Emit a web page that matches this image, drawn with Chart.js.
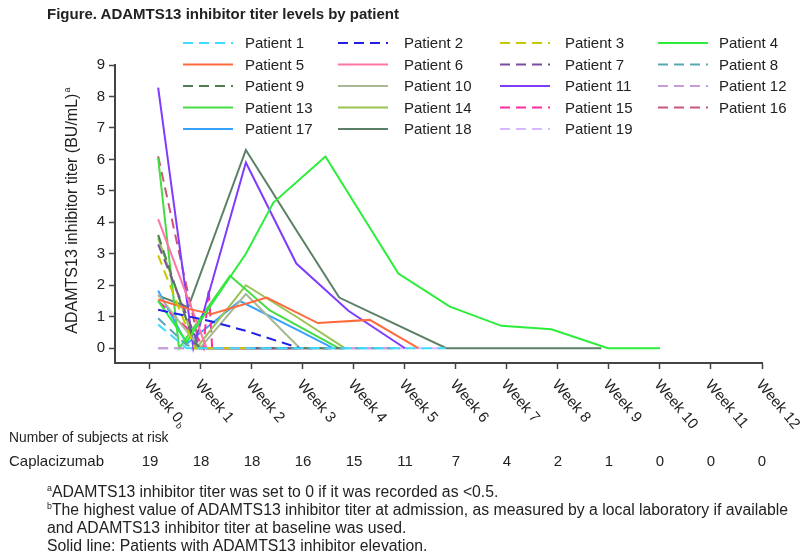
<!DOCTYPE html>
<html>
<head>
<meta charset="utf-8">
<script src="https://cdn.jsdelivr.net/npm/chart.js@4.4.1/dist/chart.umd.min.js"></script>
<style>
  html,body{margin:0;padding:0;background:#fff;}
  #wrap{position:relative;width:800px;height:557px;overflow:hidden;font-family:"Liberation Sans",Arial,sans-serif;color:#222;}
  #title{position:absolute;left:47px;top:5px;font-weight:bold;font-size:15px;}
  .fn{position:absolute;left:47px;font-family:"Liberation Sans",Arial,sans-serif;font-size:16px;white-space:nowrap;transform-origin:0 0;}
  .fn sup{font-size:9px;vertical-align:6px;line-height:0;}
  canvas{position:absolute;left:0;top:0;}
</style>
</head>
<body>
<div id="wrap">
  <canvas id="c" width="800" height="557"></canvas>
  <div id="title">Figure. ADAMTS13 inhibitor titer levels by patient</div>
  <div class="fn" style="top:483px"><sup>a</sup>ADAMTS13 inhibitor titer was set to 0 if it was recorded as &lt;0.5.</div>
  <div class="fn" id="fn2" style="top:501px"><sup>b</sup>The highest value of ADAMTS13 inhibitor titer at admission, as measured by a local laboratory if available</div>
  <div class="fn" style="top:519px">and ADAMTS13 inhibitor titer at baseline was used.</div>
  <div class="fn" style="top:537px">Solid line: Patients with ADAMTS13 inhibitor elevation.</div>
</div>
<script>
// ─── DATA ────────────────────────────────────────────────────────────────────
const weeks=[0,1,2,3,4,5,6,7,8,9,10,11,12];
const weekLabels=['Week 0','Week 1','Week 2','Week 3','Week 4','Week 5','Week 6','Week 7','Week 8','Week 9','Week 10','Week 11','Week 12'];
const yTicks=[0,1,2,3,4,5,6,7,8,9];
const atRisk=[19,18,18,16,15,11,7,4,2,1,0,0,0];

// [week, titer BU/mL]
const p1 =[[0.16,0.75],[0.72,0],[5.8,0]];
const p2 =[[0.16,1.22],[1.21,0.85],[1.88,0.55],[2.94,0]];
const p3 =[[0.16,2.95],[0.88,0],[1.9,0]];
const p4 =[[0.16,1.5],[0.72,0.2],[1.0,0.9],[1.88,3.0],[2.42,4.63],[3.44,6.09],[4.87,2.37],[5.88,1.32],[6.89,0.71],[7.87,0.6],[8.98,0],[10,0]];
const p5 =[[0.16,1.55],[0.75,1.25],[1.21,1.09],[2.29,1.61],[3.29,0.8],[4.31,0.9],[5.26,0]];
const p6 =[[0.16,4.1],[1.11,0],[2.0,0]];
const p7 =[[0.16,3.3],[0.98,0],[2.9,0]];
const p8 =[[0.16,0.95],[0.72,0.1],[0.98,0],[4.8,0]];
const p9 =[[0.16,3.6],[0.85,0.25],[0.98,0],[3.9,0]];
const p10=[[0.16,1.7],[0.98,0],[1.88,1.72],[2.94,0]];
const p11=[[0.16,8.28],[0.85,0],[1.88,5.9],[2.87,2.69],[3.89,1.19],[5.0,0]];
const p12=[[0.16,0],[4.9,0]];
const p13=[[0.16,6.05],[0.57,0],[1.57,2.3],[2.35,1.2],[3.7,0]];
const p14=[[0.16,3.5],[0.91,0],[1.88,2.0],[2.87,1.0],[3.82,0]];
const p15=[[0.16,1.5],[0.95,0.3],[1.05,0],[1.15,1.9],[1.22,0],[3.0,0]];
const p16=[[0.16,6.1],[0.98,0],[3.56,0]];
const p17=[[0.16,1.83],[0.72,0.14],[1.76,1.5],[2.87,0.6],[3.59,0]];
const p18=[[0.16,1.67],[0.75,1.3],[1.88,6.3],[2.87,3.75],[3.71,1.61],[5.81,0],[8.85,0]];
const p19=[[0.16,0],[5.81,0]];

const patients=[p1,p2,p3,p4,p5,p6,p7,p8,p9,p10,p11,p12,p13,p14,p15,p16,p17,p18,p19];
const colors=['#3fdcff','#1f1fe8','#c8c800','#2cee3a','#ff6a3d','#ff74a8','#7d4f9c','#5aa8b6','#4f7f52','#a6b994',
              '#7f3cff','#c49bd6','#44dd44','#99c455','#ff2d9c','#cc5577','#36a2ff','#5b8066','#d6b8ff'];
const dashed=[true,true,true,false,false,false,true,true,true,false,false,true,false,false,true,true,false,false,true];

// footnotes are condensed in the original: squeeze to the same width
const fnScale=741/document.getElementById('fn2').scrollWidth;
document.querySelectorAll('.fn').forEach(el=>el.style.transform=`scaleX(${fnScale})`);

// ─── EXTRA DRAWING (legend, rotated week labels, at-risk row, y title) ──────
const extras={
  id:'extras',
  afterDraw(ch){
    const ctx=ch.ctx, xs=ch.scales.x, ys=ch.scales.y;
    const F='"Liberation Sans", Arial, sans-serif';
    ctx.save();
    // legend 4 x 5 grid
    const colLine=[183,338,500,658], colText=[245,404,565,719];
    ctx.font='15px '+F;
    ctx.textBaseline='middle'; ctx.textAlign='left';
    ch.data.datasets.forEach((ds,i)=>{
      const c=i%4, r=Math.floor(i/4), y=43+r*21.5;
      ctx.strokeStyle=ds.borderColor; ctx.lineWidth=2;
      ctx.setLineDash(ds.borderDash||[]);
      ctx.beginPath(); ctx.moveTo(colLine[c],y); ctx.lineTo(colLine[c]+50,y); ctx.stroke();
      ctx.fillStyle='#222'; ctx.fillText(ds.label,colText[c],y+1);
    });
    ctx.setLineDash([]);
    // rotated week labels
    weeks.forEach((w,i)=>{
      const x=xs.getPixelForValue(w);
      ctx.save(); ctx.translate(x-3,382); ctx.rotate(50*Math.PI/180);
      ctx.font='15px '+F; ctx.fillStyle='#222'; ctx.fillText(weekLabels[i],0,0);
      if(i===0){ const tw=ctx.measureText(weekLabels[i]).width; ctx.font='9px '+F; ctx.fillText('b',tw+1,4); }
      ctx.restore();
    });
    // at-risk row
    ctx.font='15px '+F; ctx.fillStyle='#222';
    ctx.save(); ctx.translate(9,0); ctx.scale(0.92,1);
    ctx.fillText('Number of subjects at risk',0,438);
    ctx.restore();
    ctx.fillText('Caplacizumab',9,462);
    ctx.textAlign='center';
    atRisk.forEach((n,i)=>ctx.fillText(String(n),xs.getPixelForValue(weeks[i]),462));
    // y title
    ctx.save();
    ctx.translate(73,(ys.getPixelForValue(0)+ys.getPixelForValue(9))/2+4);
    ctx.rotate(-Math.PI/2);
    ctx.font='16px '+F;
    ctx.textAlign='center';
    ctx.fillText('ADAMTS13 inhibitor titer (BU/mL)',-3,0);
    const tw=ctx.measureText('ADAMTS13 inhibitor titer (BU/mL)').width;
    ctx.font='9px '+F; ctx.textAlign='left';
    ctx.fillText('a',tw/2-2,-5);
    ctx.restore();
    ctx.restore();
  }
};

new Chart(document.getElementById('c'),{
  type:'line',
  data:{datasets:patients.map((p,i)=>({
    label:'Patient '+(i+1),
    data:p.map(([x,y])=>({x,y})),
    borderColor:colors[i],
    borderWidth:2,
    borderDash:dashed[i]?[10,6]:[],
    pointRadius:0,
    fill:false,
    tension:0
  }))},
  options:{
    responsive:false,animation:false,
    layout:{padding:{top:65,right:38,left:0,bottom:0}},
    plugins:{legend:{display:false},tooltip:{enabled:false}},
    scales:{
      x:{type:'linear',min:-0.686,max:12,
        afterBuildTicks:s=>{s.ticks=weeks.map(v=>({value:v}));},
        afterFit:s=>{s.height=194;},
        ticks:{display:false},
        grid:{drawOnChartArea:false,drawTicks:true,tickLength:6,tickColor:'#444',tickWidth:1.5},
        border:{color:'#444',width:2}},
      y:{min:-0.47,max:9,
        afterBuildTicks:s=>{s.ticks=yTicks.map(v=>({value:v}));},
        afterFit:s=>{s.width=115;},
        ticks:{color:'#222',font:{family:'"Liberation Sans", Arial',size:15},padding:4},
        grid:{drawOnChartArea:false,drawTicks:true,tickLength:6,tickColor:'#444',tickWidth:1.5},
        border:{color:'#444',width:2}}
    }
  },
  plugins:[extras]
});
</script>
</body>
</html>
